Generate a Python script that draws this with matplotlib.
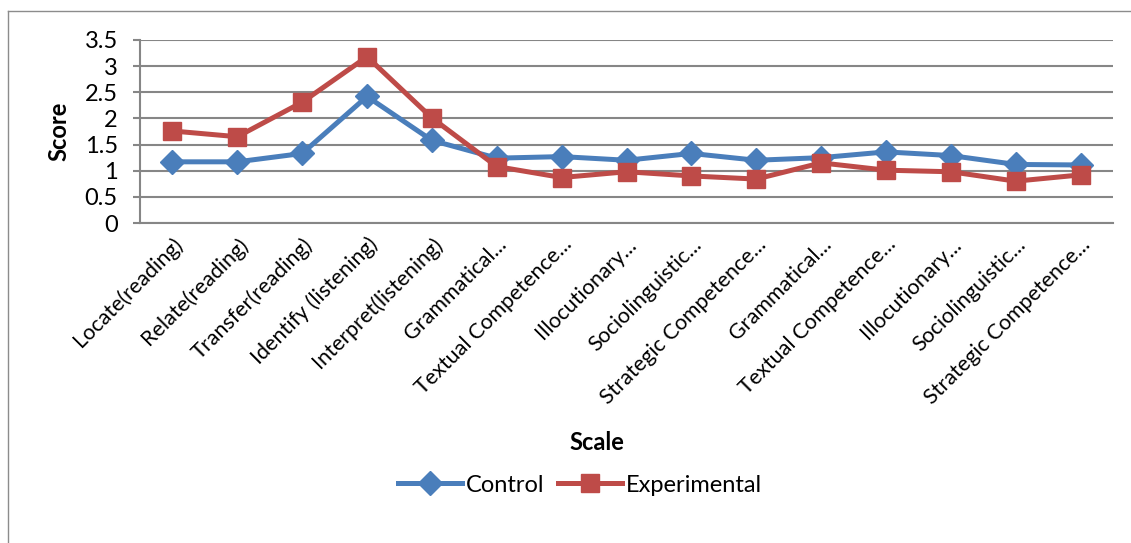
import matplotlib.pyplot as plt
from matplotlib.lines import Line2D
import numpy as np

plt.rcParams['font.family'] = ['Lato', 'DejaVu Sans']

# Scores per scale
scales = ['Locate(reading)', 'Relate(reading)', 'Transfer(reading)',
          'Identify (listening)', 'Interpret(listening)', 'Grammatical...',
          'Textual Competence...', 'Illocutionary...', 'Sociolinguistic...',
          'Strategic Competence...', 'Grammatical...', 'Textual Competence...',
          'Illocutionary...', 'Sociolinguistic...', 'Strategic Competence...']
control = [1.17, 1.17, 1.33, 2.42, 1.58, 1.24, 1.27, 1.2, 1.33, 1.2,
           1.25, 1.36, 1.29, 1.12, 1.11]
experimental = [1.76, 1.65, 2.31, 3.18, 2.01, 1.08, 0.87, 0.98, 0.9, 0.84,
                1.15, 1.01, 0.98, 0.8, 0.92]

blue = '#4A7EBB'
red = '#BE4B48'
grid = '#868686'

fig = plt.figure(figsize=(11.31, 5.43), dpi=100)
ax = fig.add_axes([140/1131, 1-223/543, 973/1131, 183/543])

x = np.arange(len(scales))
ax.plot(x, control, color=blue, lw=3.6, marker='D', ms=12, label='Control')
ax.plot(x, experimental, color=red, lw=3.6, marker='s', ms=12.5, label='Experimental')

ax.set_xlim(-0.5, len(scales)-0.5)
ax.set_ylim(0, 3.5)
ax.set_yticks(np.arange(0, 3.51, 0.5))
ax.set_yticklabels(['0', '0.5', '1', '1.5', '2', '2.5', '3', '3.5'], fontsize=17)
ax.yaxis.grid(True, color=grid, lw=1.5)
ax.set_axisbelow(True)
ax.tick_params(axis='y', length=5, width=1.5, color=grid, pad=11)
ax.tick_params(axis='x', length=0, pad=8)
ax.set_xticks(x)
ax.set_xticklabels(scales, rotation=45, ha='right', rotation_mode='anchor', fontsize=15.5)
for s in ['top', 'right']:
    ax.spines[s].set_visible(False)
for s in ['left', 'bottom']:
    ax.spines[s].set_color(grid)
    ax.spines[s].set_linewidth(1.5)

ax.set_ylabel('Score', fontsize=17, fontweight='bold', labelpad=10)
fig.text(597/1131, 1-442/543, 'Scale', fontsize=17, fontweight='bold', ha='center', va='center')

fig.legend(loc='center', bbox_to_anchor=(580/1131, 1-485/543), ncol=2, frameon=False,
           fontsize=17, handlelength=2.7, columnspacing=0.6, handletextpad=0.15)

# chart frame
fig.add_artist(Line2D([7.5/1131, 7.5/1131], [0, 1-10.5/543], color='#8c8c8c', lw=1))
fig.add_artist(Line2D([7.5/1131, 1], [1-10.5/543, 1-10.5/543], color='#8c8c8c', lw=1))

fig.savefig('out.png', dpi=100)
